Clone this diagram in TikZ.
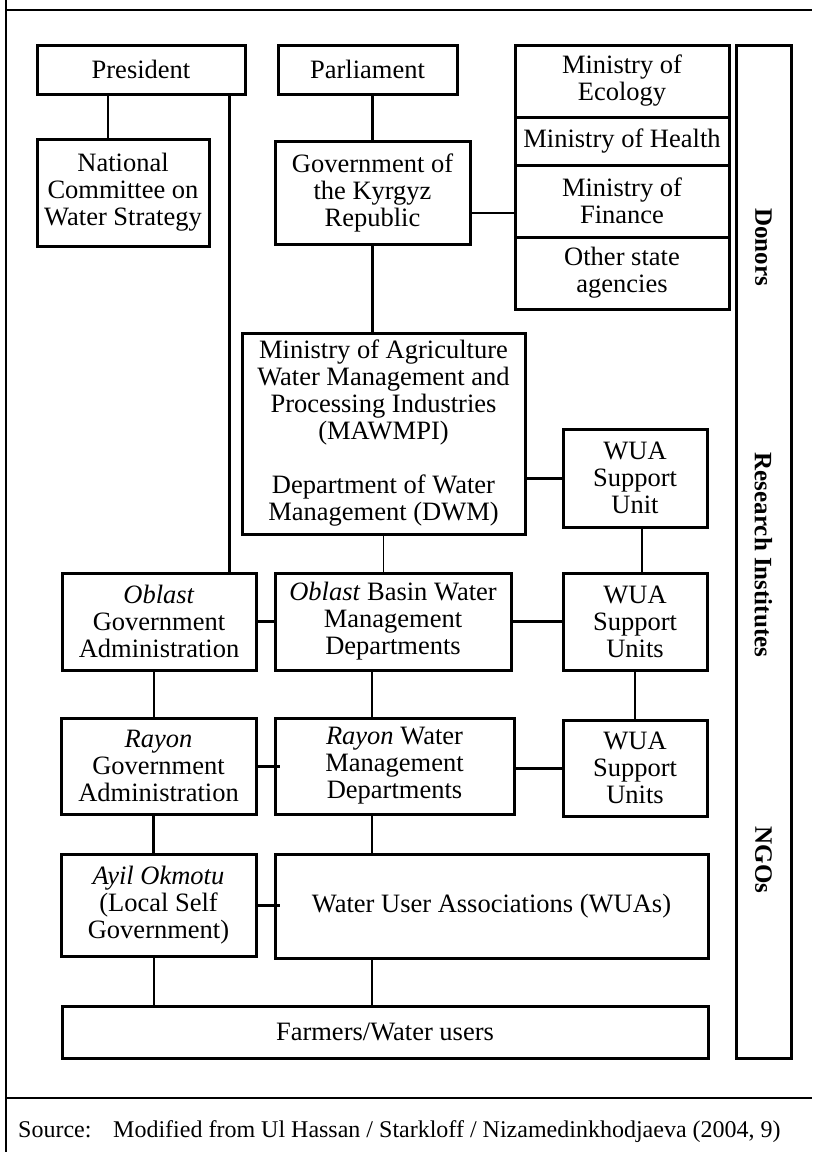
\documentclass[tikz,border=0pt]{standalone}
\usepackage{fontspec}
\setmainfont{Liberation Serif}
\begin{document}
\begin{tikzpicture}[x=1pt, y=-1pt,
    orgbox/.style={draw, line width=3pt, inner sep=0pt, align=center,
                   font=\fontsize{26.5}{27}\selectfont},
    conn/.style={line width=2.3pt},
    heavy/.style={line width=3pt},
    light/.style={line width=1.5pt},
    sidetext/.style={rotate=-90, font=\fontsize{25}{27}\selectfont\bfseries}]
    \useasboundingbox (0,0) rectangle (812,1152);

    % frame of the figure
    \draw[line width=2pt] (6,0) -- (6,1152);
    \draw[line width=2pt] (6,10) -- (812,10);
    \draw[line width=2pt] (6,1098) -- (812,1098);

    % top level
    \node[orgbox, minimum width=208, minimum height=49] (pres) at (141,69.5) {President};
    \node[orgbox, minimum width=179, minimum height=49] (parl) at (367.5,69.5) {Parliament};
    \node[orgbox, minimum width=172, minimum height=107] (natcom) at (123,192.5)
        {National\\Committee on\\Water Strategy};
    \node[orgbox, minimum width=195, minimum height=103] (gov) at (372.5,192.5)
        {Government of\\the Kyrgyz\\Republic};

    % ministries column
    \node[orgbox, minimum width=214, minimum height=72] (eco) at (622,81) {Ministry of\\Ecology};
    \node[orgbox, minimum width=214, minimum height=48] (health) at (622,141) {Ministry of Health};
    \node[orgbox, minimum width=214, minimum height=72] (fin) at (622,201) {Ministry of\\Finance};
    \node[orgbox, minimum width=214, minimum height=72] (other) at (622,273) {Other state\\agencies};

    % side column
    \node[orgbox, minimum width=55, minimum height=1013] (side) at (763.5,551.5) {};
    \node[sidetext] (donors) at (side.center |- 0,247) {Donors};
    \node[sidetext] (research) at (side.center |- 0,555) {Research Institutes};
    \node[sidetext] (ngos) at (side.center |- 0,860) {NGOs};

    % ministry and water units
    \node[orgbox, minimum width=283, minimum height=201] (maw) at (383.5,433.5)
        {Ministry of Agriculture\\Water Management and\\Processing Industries\\(MAWMPI)\\[27pt]
         Department of Water\\Management (DWM)};
    \node[orgbox, minimum width=144, minimum height=98] (wuasu) at (635,478) {WUA\\Support\\Unit};

    % oblast level
    \node[orgbox, minimum width=194, minimum height=97] (oblgov) at (159,621.5)
        {\textit{Oblast}\\Government\\Administration};
    \node[orgbox, minimum width=236, minimum height=97] (basin) at (393,621.5)
        {\textit{Oblast} Basin Water\\Management\\Departments};
    \node[orgbox, minimum width=144, minimum height=97] (wua1) at (635,621.5) {WUA\\Support\\Units};

    % rayon level
    \node[orgbox, minimum width=195, minimum height=96] (raygov) at (158.5,766)
        {\textit{Rayon}\\Government\\Administration};
    \node[orgbox, minimum width=239, minimum height=96] (raywm) at (394.5,766)
        {\textit{Rayon} Water\\Management\\Departments};
    \node[orgbox, minimum width=144, minimum height=96] (wua2) at (635,768) {WUA\\Support\\Units};

    % local level
    \node[orgbox, minimum width=195, minimum height=102] (ayil) at (158.5,905)
        {\textit{Ayil Okmotu}\\(Local Self\\Government)};
    \node[orgbox, minimum width=433, minimum height=104] (wuas) at (491.5,906)
        {Water User Associations (WUAs)};
    \node[orgbox, minimum width=646, minimum height=52] (farm) at (385,1032) {Farmers/Water users};

    % connectors
    \draw[conn] ([xshift=-15pt]natcom.north) -- ([xshift=-15pt]natcom.north |- pres.south);
    \draw[conn] ([xshift=-17pt]pres.south east) -- ([xshift=-17pt]pres.south east |- oblgov.north);
    \draw[conn] (parl.south -| gov.north) -- (gov.north);
    \draw[conn] ([yshift=-20.5pt]gov.east) -- ([yshift=-20.5pt]gov.east -| fin.west);
    \draw[conn] (gov.south) -- (gov.south |- maw.north);
    \draw[heavy] (maw.east |- wuasu.west) -- (wuasu.west);
    \draw[light] (maw.south) -- (maw.south |- basin.north);
    \draw[light] ([xshift=7pt]wuasu.south) -- ([xshift=7pt]wuasu.south |- wua1.north);
    \draw[heavy] (oblgov.east) -- (basin.west);
    \draw[heavy] (basin.east) -- (wua1.west);
    \draw[conn] ([xshift=-5pt]oblgov.south) -- ([xshift=-5pt]oblgov.south |- raygov.north);
    \draw[conn] ([xshift=-21pt]basin.south) -- ([xshift=-21pt]basin.south |- raywm.north);
    \draw[conn] (wua1.south) -- (wua1.south |- wua2.north);
    \draw[heavy, shorten >=-6pt] (raygov.east) -- (raywm.west);
    \draw[heavy] (raywm.east |- wua2.west) -- (wua2.west);
    \draw[conn] ([xshift=-5pt]raygov.south) -- ([xshift=-5pt]raygov.south |- ayil.north);
    \draw[conn] ([xshift=-22.5pt]raywm.south) -- ([xshift=-22.5pt]raywm.south |- wuas.north);
    \draw[heavy, shorten >=-6pt] (ayil.east) -- (ayil.east -| wuas.west);
    \draw[conn] ([xshift=-4.5pt]ayil.south) -- ([xshift=-4.5pt]ayil.south |- farm.north);
    \draw[conn] ([xshift=-119.5pt]wuas.south) -- ([xshift=-119.5pt]wuas.south |- farm.north);

    % source line
    \node[anchor=base west, inner sep=0pt, font=\fontsize{24}{26}\selectfont] (source) at (18,1137)
        {\makebox[95pt][l]{Source:}Modified from Ul Hassan / Starkloff / Nizamedinkhodjaeva (2004, 9)};
\end{tikzpicture}
\end{document}
